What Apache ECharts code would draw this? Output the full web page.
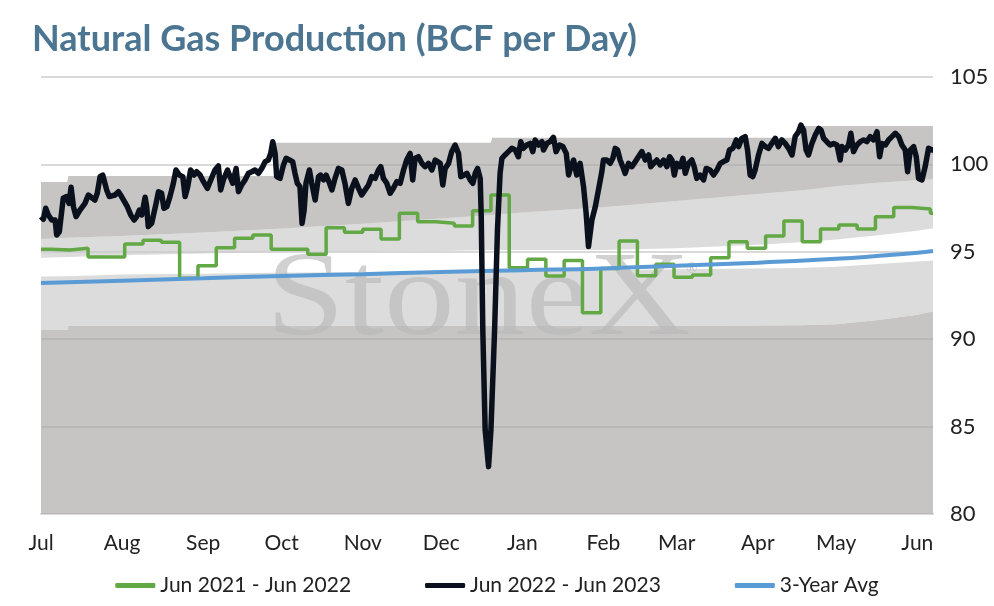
<!DOCTYPE html>
<html>
<head>
<meta charset="utf-8">
<title>Natural Gas Production</title>
<script src="https://cdn.jsdelivr.net/npm/echarts@6/dist/echarts.min.js"></script>
<style>
  html, body { margin: 0; padding: 0; background: #fff; }
  #chart { width: 994px; height: 606px; }
</style>
</head>
<body>
<div id="chart"></div>
<script>
// x axis is in days counted from Jul 1
var monthLabels = ['Jul','Aug','Sep','Oct','Nov','Dec','Jan','Feb','Mar','Apr','May','Jun'];
var monthDays = [0, 31, 62, 92, 123, 153, 184, 215, 243, 274, 304, 335];
var lastDay = 341;
var yMin = 80;

// shaded range bands (boundaries, BCF/d)
var bandDay = [0, 10, 10.5, 31, 62, 89, 89.5, 123, 153, 172, 172.5, 184, 215, 243, 274, 290, 290.5, 304, 320, 335, 341];
var bandLow = [90.53, 90.53, 90.77, 90.77, 90.77, 90.77, 90.77, 90.77, 90.77, 90.77, 90.77, 90.77, 90.77, 90.77, 90.78, 90.8, 90.8, 90.85, 91.1, 91.4, 91.6];
var bandMidLow = [93.58, 93.6, 93.6, 93.7, 93.75, 93.8, 93.8, 93.85, 93.9, 93.9, 93.9, 93.92, 93.95, 94.0, 94.05, 94.08, 94.08, 94.15, 94.3, 94.45, 94.5];
var bandMidHigh = [94.66, 94.7, 94.7, 94.8, 94.9, 95.0, 95.0, 95.0, 95.05, 95.1, 95.1, 95.1, 95.1, 95.2, 95.4, 95.55, 95.55, 95.7, 95.95, 96.2, 96.35];
var bandHigh = [95.73, 95.8, 95.8, 95.9, 96.1, 96.3, 96.3, 96.6, 96.9, 97.1, 97.1, 97.25, 97.55, 97.9, 98.3, 98.5, 98.5, 98.75, 98.95, 99.1, 99.15];
var bandMax = [99.0, 99.0, 99.34, 99.34, 99.34, 99.34, 101.24, 101.24, 101.24, 101.24, 101.53, 101.53, 101.53, 101.53, 101.53, 101.53, 102.2, 102.2, 102.2, 102.2, 102.2];

// 3-year average
var avgDay = [0, 31, 62, 92, 123, 153, 184, 215, 243, 274, 304, 335, 341];
var avgVal = [93.22, 93.35, 93.48, 93.62, 93.72, 93.85, 93.95, 94.05, 94.2, 94.38, 94.6, 94.95, 95.05];

// Jun 2021 - Jun 2022, weekly values (week starts: day 0, then every 7 days from day 4)
var prevWeekly = [95.15, 95.1, 95.2, 94.7, 94.7, 95.45, 95.66, 95.54, 93.48, 94.2,
                  95.23, 95.77, 95.96, 95.14, 95.14, 94.86, 96.38, 96.12, 96.29, 95.73,
                  97.2, 96.72, 96.63, 96.48, 97.35, 98.25, 94.09, 94.57, 93.62, 94.5,
                  91.52, 94.05, 95.62, 93.63, 94.29, 93.54, 93.67, 94.66, 95.58, 95.2,
                  95.9, 96.76, 95.58, 96.3, 96.53, 96.3, 97.0, 97.54, 97.45, 97.2];

// Jun 2022 - Jun 2023
var curDay = [0, 0.9, 1.8, 2.8, 4.1, 5.4, 6.0, 7.0, 8.5, 9.8, 10.7, 11.5, 12.4, 13.4, 14.9, 16.8, 18.1, 20.6, 21.5, 22.6,
  23.6, 25.1, 26.1, 28.3, 29.6, 30.8, 33.0, 34.3, 35.6, 36.6, 37.6, 38.5, 39.8, 40.4, 41.0, 42.3, 44.0, 44.9, 46.1, 47.0,
  48.1, 49.3, 50.6, 51.6, 52.9, 54.2, 55.1, 56.1, 57.2, 58.5, 59.5, 60.8, 62.1, 63.6, 64.9, 66.5, 67.8, 68.7, 69.7, 71.3,
  72.3, 73.3, 74.6, 75.5, 76.7, 78.0, 79.3, 80.6, 81.8, 83.1, 84.4, 85.7, 86.9, 87.8, 88.6, 89.5, 90.1, 91.4, 92.7, 93.7,
  95.0, 96.2, 97.1, 98.0, 99.0, 99.8, 100.6, 101.3, 102.6, 103.5, 104.8, 106.1, 106.9, 108.0, 109.0, 110.3, 111.2, 112.4, 113.7, 115.0,
  116.2, 117.5, 118.8, 120.1, 121.4, 122.6, 123.9, 125.2, 126.4, 127.7, 129.0, 129.9, 130.9, 132.2, 133.5, 134.7, 136.0, 137.3, 138.6, 139.8,
  141.1, 142.1, 143.0, 144.3, 145.6, 146.8, 148.1, 149.4, 150.7, 152.6, 153.6, 154.5, 155.8, 157.0, 158.3, 159.6, 160.5, 161.8, 162.8, 164.1,
  165.1, 166.0, 166.9, 167.9, 168.3, 168.9, 169.8, 171.1, 172.0, 173.4, 174.5, 175.5, 176.2, 177.4, 178.7, 180.0, 181.3, 182.5, 183.4, 184.4,
  185.7, 187.0, 188.0, 188.9, 190.2, 191.5, 192.1, 193.4, 194.6, 195.9, 196.9, 198.2, 199.5, 200.8, 201.7, 202.6, 203.6, 204.8, 206.1, 207.4,
  208.4, 209.3, 210.6, 211.9, 213.1, 214.4, 215.0, 216.3, 217.6, 218.6, 219.5, 220.4, 221.4, 222.4, 223.3, 224.6, 225.9, 227.2, 228.4, 229.7,
  231.0, 232.3, 233.1, 234.2, 235.4, 236.7, 238.0, 239.3, 240.3, 241.2, 242.1, 243.1, 244.4, 245.4, 246.3, 247.5, 248.8, 249.7, 250.7, 252.0,
  253.3, 254.3, 255.8, 257.1, 258.4, 259.7, 260.9, 262.2, 263.2, 264.5, 265.8, 266.7, 267.9, 269.2, 270.1, 271.1, 272.1, 273.0, 274.3, 275.6,
  276.9, 278.1, 279.4, 280.7, 281.9, 283.2, 284.5, 285.8, 287.1, 288.3, 289.6, 290.5, 291.5, 292.5, 293.4, 294.7, 296.0, 297.3, 298.2, 299.2,
  300.4, 301.7, 303.0, 304.3, 305.5, 306.2, 307.5, 308.7, 309.6, 310.6, 311.9, 313.2, 314.5, 315.7, 317.0, 318.3, 319.6, 320.6, 321.5, 322.8,
  324.0, 325.3, 326.6, 327.9, 329.1, 330.4, 331.3, 332.3, 333.6, 334.6, 335.5, 336.8, 338.0, 339.3, 340.6, 341];
var curVal = [97.01, 96.86, 97.49, 97.11, 96.82, 96.82, 95.96, 96.15, 98.06, 98.16, 97.77, 98.69, 97.58, 97.01, 97.39, 97.77, 98.25, 97.96, 98.35, 99.3,
  99.39, 98.54, 98.16, 98.25, 98.44, 98.16, 97.58, 97.11, 96.82, 97.01, 97.39, 97.11, 98.12, 97.58, 96.44, 96.63, 97.77, 98.44, 98.35, 97.49,
  97.58, 98.16, 98.92, 99.68, 99.39, 99.3, 98.16, 98.73, 99.68, 99.39, 99.58, 99.39, 99.01, 98.63, 99.11, 99.68, 99.91, 98.54, 99.11, 99.68,
  99.3, 98.92, 99.77, 98.44, 98.82, 99.11, 99.49, 99.58, 99.68, 99.49, 99.77, 100.16, 100.25, 100.63, 101.3, 100.63, 99.3, 99.2, 99.97, 100.35,
  100.25, 100.16, 99.49, 98.92, 98.73, 96.63, 97.39, 98.92, 99.68, 98.92, 97.96, 99.3, 99.39, 99.11, 99.39, 98.92, 98.54, 99.2, 99.77, 99.68,
  98.92, 97.77, 98.63, 99.11, 98.63, 98.25, 98.54, 98.82, 99.3, 99.2, 99.68, 99.87, 99.2, 98.92, 98.35, 98.63, 99.01, 98.92, 99.68, 100.25,
  100.63, 99.11, 100.35, 100.44, 100.06, 99.87, 100.06, 99.68, 100.25, 100.06, 98.82, 99.77, 100.06, 100.73, 101.11, 100.63, 99.3, 99.39, 99.49, 99.11,
  98.92, 99.49, 99.77, 99.2, 97.0, 90.5, 84.8, 82.71, 84.8, 90.5, 96.25, 99.49, 100.35, 100.54, 100.73, 100.92, 100.82, 100.44, 101.3, 100.92,
  101.11, 101.2, 100.73, 101.4, 101.11, 101.3, 100.82, 101.2, 101.3, 101.55, 100.73, 101.11, 101.02, 100.63, 99.39, 99.87, 100.25, 99.39, 100.06, 98.73,
  97.2, 95.3, 96.82, 97.58, 98.54, 99.58, 100.25, 100.25, 100.06, 100.35, 100.92, 100.82, 100.25, 99.87, 99.49, 100.06, 99.87, 100.16, 100.44, 100.73,
  100.25, 100.54, 99.87, 100.06, 100.25, 99.97, 100.25, 99.87, 100.44, 100.25, 99.39, 100.06, 99.87, 100.35, 99.49, 100.06, 100.25, 99.87, 99.2, 99.39,
  99.11, 99.77, 99.68, 99.39, 99.68, 100.06, 100.16, 100.25, 100.82, 100.92, 101.4, 101.02, 101.49, 101.59, 100.82, 99.39, 99.3, 99.68, 100.54, 101.2,
  101.02, 100.92, 101.2, 101.49, 101.02, 101.4, 101.2, 100.92, 100.54, 101.59, 101.87, 102.25, 101.97, 100.82, 100.54, 101.2, 101.68, 102.06, 101.97, 101.49,
  101.3, 101.11, 101.2, 101.11, 100.25, 101.02, 100.82, 101.11, 101.78, 100.73, 101.11, 101.3, 101.4, 101.3, 101.59, 101.4, 101.87, 100.44, 101.2, 101.11,
  101.4, 101.59, 101.78, 101.59, 101.11, 100.82, 99.58, 100.82, 101.02, 100.44, 99.2, 99.11, 99.87, 100.92, 100.82, 100.82];

function pairs(xs, ys){
    var out = [];
    for (var i = 0; i < xs.length; i++){
        out.push([xs[i], ys[i]]);
    }
    return out;
}

// week start days for the weekly series
var prevDay = [0];
for (var w = 1; w < prevWeekly.length; w++){
    prevDay.push(4 + 7 * (w - 1));
}
var prevData = pairs(prevDay, prevWeekly);
prevData.push([lastDay, prevWeekly[prevWeekly.length - 1]]);

var DARK = 'rgba(168,167,165,0.66)';
var LIGHT = 'rgba(202,202,202,0.66)';
var FONT = 'Lato';

// one shaded band between two boundary arrays, drawn as a polygon on the axes
function band(name, lower, upper, color){
    return {
        name: name,
        type: 'custom',
        silent: true,
        z: 1,
        data: [[0, yMin]],
        renderItem: function(params, api){
            var pts = [];
            for (var i = 0; i < bandDay.length; i++){
                pts.push(api.coord([bandDay[i], upper[i]]));
            }
            for (var j = bandDay.length - 1; j >= 0; j--){
                pts.push(api.coord([bandDay[j], lower ? lower[j] : yMin]));
            }
            return {type: 'polygon', shape: {points: pts}, style: {fill: color}};
        }
    };
}

var chart = echarts.init(document.getElementById('chart'), null, {renderer: 'canvas'});

var option = {
    animation: false,
    backgroundColor: '#ffffff',
    title: {
        text: 'Natural Gas Production (BCF per Day)',
        left: 27,
        top: 16,
        textStyle: {
            fontFamily: FONT,
            fontSize: 36,
            fontWeight: 'bold',
            color: '#4c7591'
        }
    },
    grid: {left: 41, right: 61, top: 77, bottom: 92},
    legend: {
        bottom: 5,
        left: 'center',
        itemWidth: 40,
        itemHeight: 5,
        itemGap: 74,
        icon: 'roundRect',
        textStyle: {fontFamily: FONT, fontSize: 21, color: '#222'},
        data: ['Jun 2021 - Jun 2022', 'Jun 2022 - Jun 2023', '3-Year Avg']
    },
    xAxis: {
        type: 'value',
        min: 0,
        max: lastDay,
        axisLine: {show: true, lineStyle: {color: '#d9d9d9', width: 2}},
        axisTick: {show: false},
        splitLine: {show: false},
        axisLabel: {
            customValues: monthDays,
            margin: 19,
            fontFamily: FONT,
            fontSize: 21,
            color: '#222',
            formatter: function(v){
                var i = monthDays.indexOf(Math.round(v));
                return i >= 0 ? monthLabels[i] : '';
            }
        }
    },
    yAxis: {
        type: 'value',
        position: 'right',
        min: yMin,
        max: 105,
        interval: 5,
        axisLine: {show: false},
        axisTick: {show: false},
        splitLine: {lineStyle: {color: '#d9d9d9', width: 2}},
        axisLabel: {margin: 17, fontFamily: FONT, fontSize: 22, color: '#222'}
    },
    graphic: [
        {
            type: 'text',
            left: 266,
            top: 242,
            z: 2,
            silent: true,
            scaleX: 1.17,
            style: {
                text: 'StoneX',
                font: '121px "Liberation Serif"',
                fill: 'rgba(185,185,185,0.66)'
            }
        },
        {
            type: 'text',
            left: 686,
            top: 262,
            z: 2,
            silent: true,
            style: {text: '\u00AE', font: '15px "Liberation Serif"', fill: 'rgba(185,185,185,0.85)'}
        }
    ],
    series: [
        band('b1', null, bandLow, DARK),
        band('b2', bandLow, bandMidLow, LIGHT),
        band('b4', bandMidHigh, bandHigh, LIGHT),
        band('b5', bandHigh, bandMax, DARK),
        {
            name: 'Jun 2021 - Jun 2022',
            type: 'line',
            data: prevData,
            step: 'end',
            symbol: 'none',
            z: 3,
            color: '#62a844',
            lineStyle: {color: '#62a844', width: 3.5}
        },
        {
            name: '3-Year Avg',
            type: 'line',
            data: pairs(avgDay, avgVal),
            smooth: true,
            symbol: 'none',
            z: 4,
            color: '#5b9bd5',
            lineStyle: {color: '#5b9bd5', width: 4}
        },
        {
            name: 'Jun 2022 - Jun 2023',
            type: 'line',
            data: pairs(curDay, curVal),
            symbol: 'none',
            z: 5,
            color: '#0b111c',
            lineStyle: {color: '#0b111c', width: 5.5, join: 'round'}
        }
    ]
};

chart.setOption(option);
</script>
</body>
</html>
